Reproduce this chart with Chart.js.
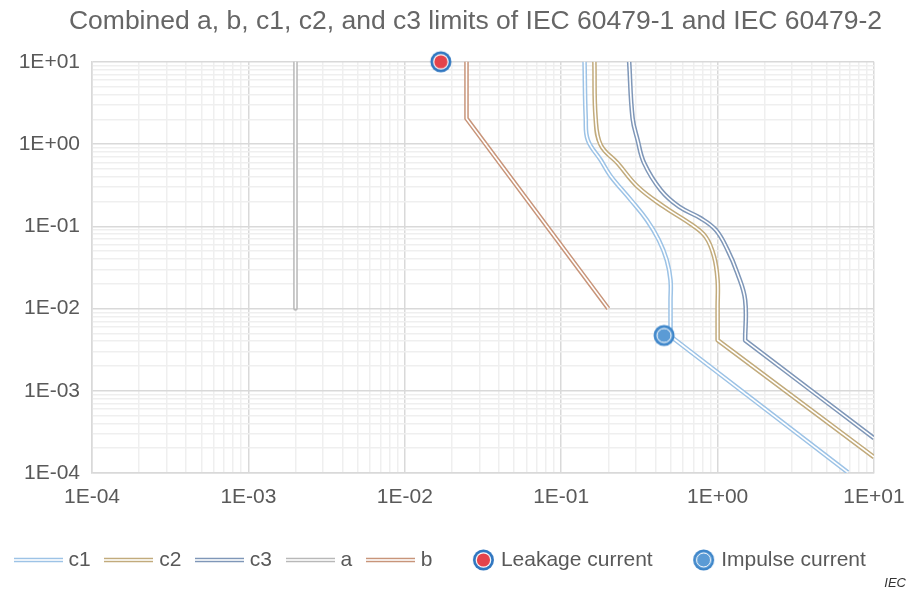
<!DOCTYPE html>
<html>
<head>
<meta charset="utf-8">
<title>IEC 60479 limits</title>
<script src="https://cdn.jsdelivr.net/npm/chart.js@4.4.0/dist/chart.umd.min.js"></script>
<style>
  html, body { margin: 0; padding: 0; background: #fff; }
</style>
</head>
<body>
<canvas id="limitsChart" width="909" height="593"></canvas>
<script>
// ========== Data ==========
// corner points are listed twice so the smoothed curves keep a sharp knee there
const c1X = [0.141, 0.1435, 0.148, 0.179, 0.207, 0.279, 0.353, 0.421, 0.473, 0.5, 0.5, 0.5, 0.5, 6.8];
const c1Y = [10, 2.07, 1.12, 0.638, 0.408, 0.208, 0.119, 0.068, 0.0388, 0.0221, 0.0126, 0.0046, 0.0046, 1.02e-4];

const c2X = [0.163, 0.166, 0.179, 0.229, 0.308, 0.453, 0.675, 0.84, 0.95, 1.0, 1.0, 1.0, 1.0, 10];
const c2Y = [10, 2.07, 0.973, 0.587, 0.303, 0.173, 0.106, 0.074, 0.0426, 0.0221, 0.0105, 0.00413, 0.00413, 1.56e-4];

const c3X = [0.272, 0.286, 0.308, 0.339, 0.433, 0.567, 0.781, 0.975, 1.16, 1.34, 1.5, 1.5, 1.5, 10];
const c3Y = [10, 2.07, 1.12, 0.587, 0.276, 0.173, 0.125, 0.0899, 0.0513, 0.0267, 0.0127, 0.0041, 0.0041, 2.65e-4];

const aX = [0.002, 0.002];
const aY = [10, 0.01];

const bX = [0.0248, 0.0248, 0.2];
const bY = [10, 2.05, 0.01];

const leakageX = [0.017];
const leakageY = [10];

const impulseX = [0.455];
const impulseY = [0.0047];

const decades = [-4, -3, -2, -1, 0, 1];
const xTickLabels = ['1E-04', '1E-03', '1E-02', '1E-01', '1E+00', '1E+01'];
const yTickLabels = ['1E-04', '1E-03', '1E-02', '1E-01', '1E+00', '1E+01'];

// ========== Helpers ==========
function toPoints(xs, ys) {
  return xs.map((x, i) => ({ x, y: ys[i] }));
}

function isMajor(v) {
  const l = Math.log10(v);
  return Math.abs(l - Math.round(l)) < 1e-9;
}

function logTicks(scale) {
  const ticks = [];
  for (let i = 0; i < decades.length - 1; i++) {
    for (let m = 1; m <= 9; m++) ticks.push({ value: m * Math.pow(10, decades[i]) });
  }
  ticks.push({ value: Math.pow(10, decades[decades.length - 1]) });
  ticks.forEach(t => { t.major = isMajor(t.value); });
  scale.ticks = ticks;
}

function tickLabel(labels) {
  return function (value) {
    if (!isMajor(value)) return '';
    return labels[decades.indexOf(Math.round(Math.log10(value)))];
  };
}

function lineIcon(color) {
  const c = document.createElement('canvas');
  c.width = 49; c.height = 8;
  const g = c.getContext('2d');
  g.fillStyle = color; g.fillRect(0, 1.75, 49, 4.5);
  g.fillStyle = '#fff'; g.fillRect(0, 3.2, 49, 1.6);
  return c;
}

function drawLeakage(g, cx, cy) {
  g.fillStyle = '#2f76c0'; g.beginPath(); g.arc(cx, cy, 10.5, 0, Math.PI * 2); g.fill();
  g.fillStyle = '#fff'; g.beginPath(); g.arc(cx, cy, 7.8, 0, Math.PI * 2); g.fill();
  g.fillStyle = '#e4434b'; g.beginPath(); g.arc(cx, cy, 6.6, 0, Math.PI * 2); g.fill();
}

function drawImpulse(g, cx, cy) {
  g.fillStyle = '#3d85c9'; g.beginPath(); g.arc(cx, cy, 10.5, 0, Math.PI * 2); g.fill();
  g.fillStyle = '#5b9bd5'; g.beginPath(); g.arc(cx, cy, 8.6, 0, Math.PI * 2); g.fill();
  g.strokeStyle = '#fff'; g.lineWidth = 1; g.beginPath(); g.arc(cx, cy, 7, 0, Math.PI * 2); g.stroke();
}

function markerIcon(drawFn, legend) {
  const c = document.createElement('canvas');
  c.width = legend ? 49 : 24; c.height = 24;
  drawFn(c.getContext('2d'), legend ? 37.5 : 12, 12);
  return c;
}

// ========== Colours ==========
const colC1 = '#9dc3e6';
const colC2 = '#c2ab7c';
const colC3 = '#7f97b8';
const colA = '#b8b8b8';
const colB = '#c8957a';

const legendIcons = [
  lineIcon(colC1), lineIcon(colC2), lineIcon(colC3), lineIcon(colA), lineIcon(colB),
  markerIcon(drawLeakage, true), markerIcon(drawImpulse, true)
];

// ========== Plugins ==========
// white centre stroke, following the same bezier path, gives the double line look
const doubleLinePlugin = {
  id: 'doubleLine',
  afterDatasetDraw(chart, args) {
    const ds = chart.data.datasets[args.index];
    if (!ds.doubleLine) return;
    const pts = args.meta.data;
    const ctx = chart.ctx, area = chart.chartArea;
    ctx.save();
    ctx.beginPath();
    ctx.rect(area.left, area.top - 3, area.right - area.left, area.bottom - area.top + 3);
    ctx.clip();
    ctx.beginPath();
    ctx.moveTo(pts[0].x, pts[0].y);
    for (let i = 1; i < pts.length; i++) {
      const p = pts[i - 1], q = pts[i];
      if (ds.tension && p.cp2x !== undefined) {
        ctx.bezierCurveTo(p.cp2x, p.cp2y, q.cp1x, q.cp1y, q.x, q.y);
      } else {
        ctx.lineTo(q.x, q.y);
      }
    }
    ctx.strokeStyle = '#fff';
    ctx.lineWidth = 1.6;
    ctx.lineJoin = 'round';
    ctx.stroke();
    ctx.restore();
  }
};

// title sits over the plot rather than the whole canvas
const titleShiftPlugin = {
  id: 'titleShift',
  afterLayout(chart) {
    if (chart.titleBlock) chart.titleBlock.left = 42;
  }
};

const sourcePlugin = {
  id: 'sourceLabel',
  afterDraw(chart) {
    const ctx = chart.ctx;
    ctx.save();
    ctx.font = 'italic 13px "Liberation Sans", Arial, sans-serif';
    ctx.fillStyle = '#333';
    ctx.textAlign = 'right';
    ctx.textBaseline = 'middle';
    ctx.fillText('IEC', 906, 583);
    ctx.restore();
  }
};

// ========== Chart ==========
function lineSet(label, xs, ys, color, tension) {
  return {
    label, data: toPoints(xs, ys),
    borderColor: color, backgroundColor: color,
    borderWidth: 4.6, borderJoinStyle: 'round',
    pointRadius: 0, tension, order: 1, doubleLine: true
  };
}

Chart.defaults.font.family = '"Liberation Sans", Arial, sans-serif';
Chart.defaults.color = '#595959';

const gridColor = ctx => (ctx.tick && ctx.tick.major ? '#d9d9d9' : '#efefef');

new Chart(document.getElementById('limitsChart').getContext('2d'), {
  type: 'line',
  data: {
    datasets: [
      lineSet('c1', c1X, c1Y, colC1, 0.4),
      lineSet('c2', c2X, c2Y, colC2, 0.4),
      lineSet('c3', c3X, c3Y, colC3, 0.4),
      lineSet('a', aX, aY, colA, 0),
      lineSet('b', bX, bY, colB, 0),
      {
        label: 'Leakage current', data: toPoints(leakageX, leakageY),
        showLine: false, pointStyle: markerIcon(drawLeakage, false),
        pointRadius: 11, order: 0, clip: false,
        borderColor: '#2f76c0', backgroundColor: '#e4434b'
      },
      {
        label: 'Impulse current', data: toPoints(impulseX, impulseY),
        showLine: false, pointStyle: markerIcon(drawImpulse, false),
        pointRadius: 11, order: 0, clip: false,
        borderColor: '#3d85c9', backgroundColor: '#5b9bd5'
      }
    ]
  },
  options: {
    responsive: false,
    devicePixelRatio: 1,
    animation: false,
    events: [],
    layout: { padding: { top: 0, right: 0, bottom: 12.5, left: 0 } },
    scales: {
      x: {
        type: 'logarithmic', min: 1e-4, max: 10,
        afterBuildTicks: logTicks,
        afterFit: s => { s.height = 58.5; s.paddingRight = 35; },
        grid: { color: gridColor, lineWidth: 1.5, drawTicks: false },
        border: { color: '#d9d9d9', width: 1.5 },
        ticks: { callback: tickLabel(xTickLabels), autoSkip: false, maxRotation: 0, minRotation: 0, padding: 12, font: { size: 21 } }
      },
      y: {
        type: 'logarithmic', min: 1e-4, max: 10,
        afterBuildTicks: logTicks,
        afterFit: s => { s.width = 92; },
        grid: { color: gridColor, lineWidth: 1.5, drawTicks: false },
        border: { color: '#d9d9d9', width: 1.5 },
        ticks: { callback: tickLabel(yTickLabels), autoSkip: false, padding: 12, font: { size: 21 } }
      }
    },
    plugins: {
      title: {
        display: true,
        text: 'Combined a, b, c1, c2, and c3 limits of IEC 60479-1 and IEC 60479-2',
        color: '#666666',
        font: { size: 26.5, weight: 'normal' },
        padding: { top: 6, bottom: 24 }
      },
      legend: {
        position: 'bottom',
        align: 'start',
        labels: {
          usePointStyle: true,
          pointStyleWidth: 40,
          padding: 18,
          color: '#595959',
          font: { size: 21 },
          sort: (a, b) => a.datasetIndex - b.datasetIndex,
          generateLabels(chart) {
            const items = Chart.defaults.plugins.legend.labels.generateLabels(chart);
            items.forEach(it => { it.pointStyle = legendIcons[it.datasetIndex]; });
            return items;
          }
        }
      },
      tooltip: { enabled: false }
    }
  },
  plugins: [doubleLinePlugin, titleShiftPlugin, sourcePlugin]
});
</script>
</body>
</html>
